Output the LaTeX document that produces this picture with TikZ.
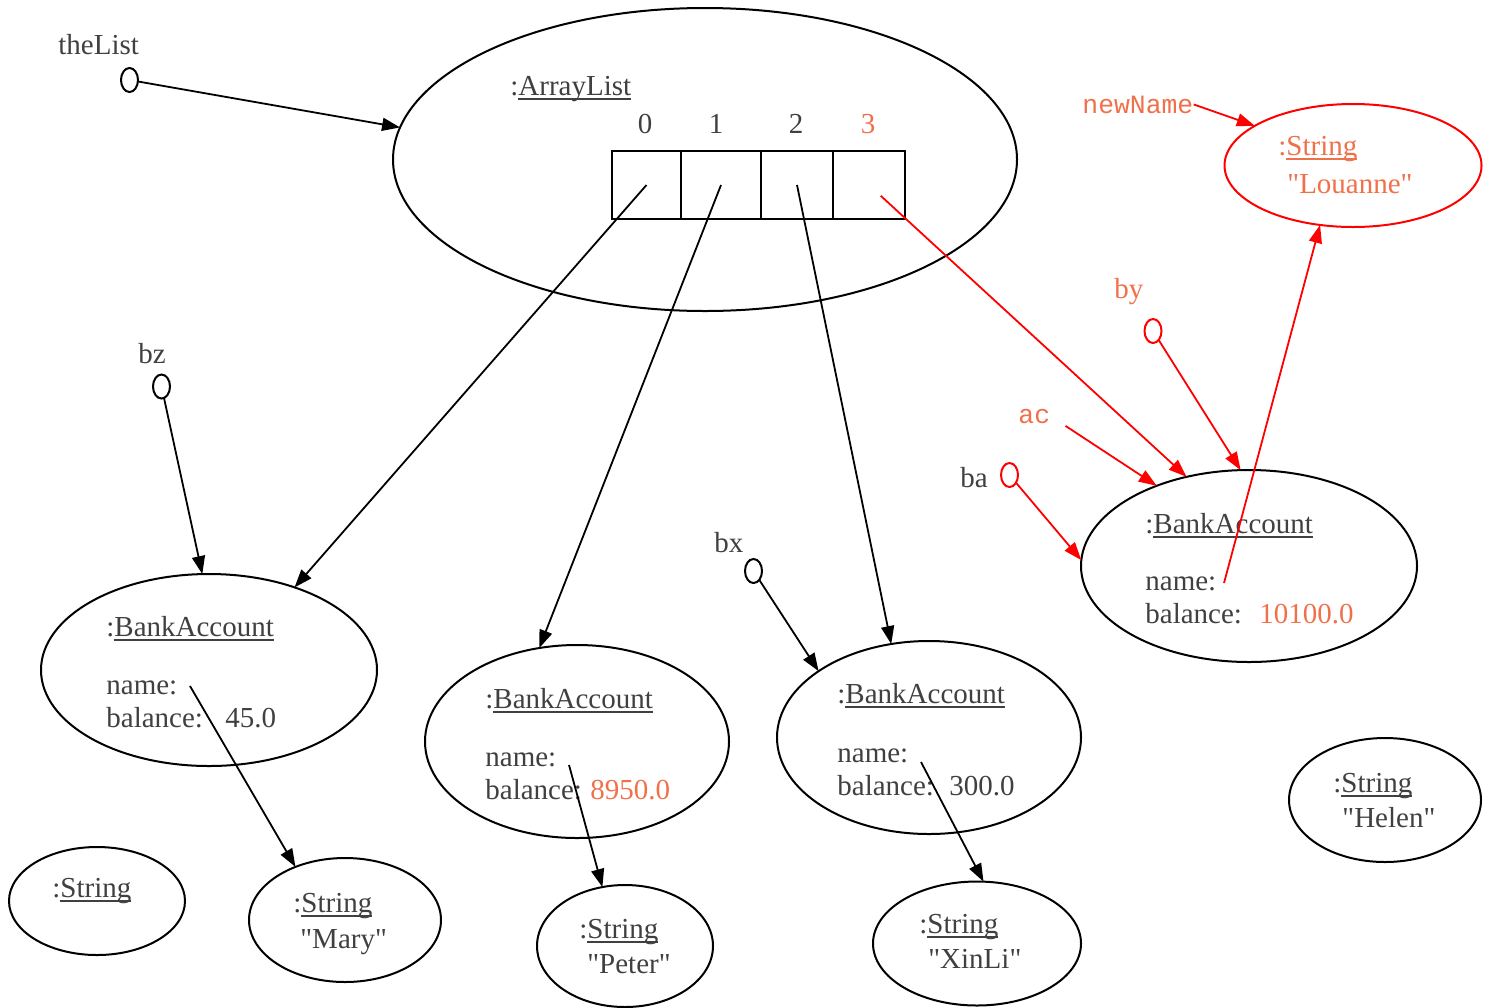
\documentclass[tikz,border=0pt]{standalone}
\usepackage{fontspec}
\setmainfont{Liberation Serif}[Ligatures=TeXOff]
\setmonofont{Liberation Mono}
\usetikzlibrary{arrows.meta,shapes.geometric}
\definecolor{txt}{HTML}{404040}
\definecolor{org}{HTML}{F0704A}
\newcommand\uln[1]{\setbox0=\hbox{#1}\rlap{\rule[-2.3pt]{\wd0}{0.7pt}}\box0}
\begin{document}
\begin{tikzpicture}[x=0.5pt,y=-0.5pt,
  obj/.style={ellipse,draw,line width=1pt,inner sep=0,outer sep=0},
  lbl/.style={anchor=base west,inner sep=0,text=txt,font=\fontsize{14.5}{17}\selectfont},
  olbl/.style={lbl,text=org},
  mlbl/.style={anchor=base west,inner sep=0,text=org,font=\ttfamily\fontsize{13.2}{16}\selectfont},
  var/.style={ellipse,draw,line width=1pt,inner sep=0,outer sep=0,minimum width=8.5pt,minimum height=12pt},
  ref/.style={line width=0.9pt,-{Triangle[length=9pt,width=6.5pt]}},
  rref/.style={ref,red},
  cell/.style={draw,line width=1pt,inner sep=0,outer sep=0,minimum height=34pt}]
\useasboundingbox (0,0) rectangle (1486,1007);

% object ellipses
\node[obj,minimum width=312pt,minimum height=151.5pt] (al) at (705,159.5) {};
\node[obj,minimum width=168pt,minimum height=96pt] (ba1) at (209,670) {};
\node[obj,minimum width=152pt,minimum height=96.5pt] (ba2) at (577,741.5) {};
\node[obj,minimum width=152pt,minimum height=96.5pt] (ba3) at (929,737.5) {};
\node[obj,minimum width=168pt,minimum height=96pt] (ba4) at (1249,566) {};
\node[obj,minimum width=88pt,minimum height=54pt] (s0) at (97,901) {};
\node[obj,minimum width=96pt,minimum height=62pt] (smary) at (345,920) {};
\node[obj,minimum width=88pt,minimum height=61pt] (speter) at (625,946) {};
\node[obj,minimum width=104pt,minimum height=62pt] (sxin) at (977,943.5) {};
\node[obj,minimum width=96pt,minimum height=62pt] (shelen) at (1385,800) {};
\node[obj,draw=red,minimum width=128.5pt,minimum height=61.5pt] (slou) at (1353,165.5) {};

% array cells
\node[cell,minimum width=34.5pt] (c0) at (646.5,185) {};
\node[cell,minimum width=40pt] (c1) at (721,185) {};
\node[cell,minimum width=36pt] (c2) at (797,185) {};
\node[cell,minimum width=36pt] (c3) at (869,185) {};

% reference variables
\node[var] (vtl) at (129.5,80) {};
\node[var] (vbz) at (161.5,386.5) {};
\node[var] (vbx) at (753.5,571) {};
\node[var,draw=red] (vba) at (1009.5,475) {};
\node[var,draw=red] (vby) at (1153,331) {};

% labels
\node[lbl] (tl) at (58,54) {theList};
\node[lbl] (bzl) at (138,363) {bz};
\node[lbl] (bxl) at (714,552) {bx};
\node[lbl] (bal) at (960,487) {ba};
\node[olbl] (byl) at (1114,298) {by};
\node[mlbl] (ac) at (1018,423) {ac};
\node[mlbl] (nn) at (1082,113) {newName};

\node[lbl] (alt) at (510,95) {:\uln{ArrayList}};
\node[lbl,anchor=base] (i0) at (645,133) {0};
\node[lbl,anchor=base] (i1) at (716,133) {1};
\node[lbl,anchor=base] (i2) at (796,133) {2};
\node[olbl,anchor=base] (i3) at (868,133) {3};

\node[lbl] (t1) at (106,636) {:\uln{BankAccount}};
\node[lbl] (nm1) at (106,694) {name:};
\node[lbl] (bl1) at (106,727) {balance:};
\node[lbl] (v1) at (225,727) {45.0};

\node[lbl] (t2) at (485,708) {:\uln{BankAccount}};
\node[lbl] (nm2) at (485,766) {name:};
\node[lbl] (bl2) at (485,799) {balance:};
\node[olbl] (v2) at (590,799) {8950.0};

\node[lbl] (t3) at (837,703) {:\uln{BankAccount}};
\node[lbl] (nm3) at (837,762) {name:};
\node[lbl] (bl3) at (837,795) {balance:};
\node[lbl] (v3) at (949,795) {300.0};

\node[lbl] (t4) at (1145,533) {:\uln{BankAccount}};
\node[lbl] (nm4) at (1145,590) {name:};
\node[lbl] (bl4) at (1145,623) {balance:};
\node[olbl] (v4) at (1259,623) {10100.0};

\node[lbl] (st0) at (52,897) {:\uln{String}};
\node[lbl] (stm) at (293,912) {:\uln{String}};
\node[lbl] (vm) at (300,948) {"Mary"};
\node[lbl] (stp) at (579,938) {:\uln{String}};
\node[lbl] (vp) at (587,973) {"Peter"};
\node[lbl] (stx) at (919,933) {:\uln{String}};
\node[lbl] (vx) at (928,968) {"XinLi"};
\node[lbl] (sth) at (1333,792) {:\uln{String}};
\node[lbl] (vh) at (1342,827) {"Helen"};
\node[olbl] (stl) at (1278,155) {:\uln{String}};
\node[olbl] (vl) at (1287,193) {"Louanne"};

% name field start points
\coordinate (n1) at (190,686);
\coordinate (n2) at (569,765);
\coordinate (n3) at (921,762);
\coordinate (n4) at (1224,583);

% connectors
\draw[ref] (vtl) -- (al.174);
\draw[ref] (c0.center) -- (ba1.44);
\draw[ref] (c1.center) -- (ba2.112);
\draw[ref] (c2.center) -- (ba3.112);
\draw[rref,shorten <=8pt] (c3.center) -- (ba4.125);
\draw[ref] (vbz) -- (ba1.94);
\draw[ref] (vbx) -- (ba3.149);
\draw[rref] (vba) -- (ba4.178);
\draw[rref,shorten <=9pt] (ac.east) -- (ba4.139);
\draw[rref] (vby) -- (ba4.95);
\draw[rref] (nn.east) -- (slou.158);
\draw[ref] (n1) -- (smary.133);
\draw[ref] (n2) -- (speter.111);
\draw[ref] (n3) -- (sxin.84);
\draw[rref] (n4) -- (slou.241);
\end{tikzpicture}
\end{document}
